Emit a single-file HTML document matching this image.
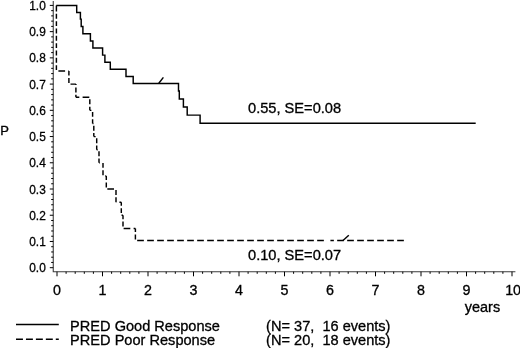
<!DOCTYPE html>
<html><head><meta charset="utf-8"><title>KM</title>
<style>html,body{margin:0;padding:0;background:#fff;}body{width:520px;height:348px;overflow:hidden;}svg{display:block;will-change:transform;filter:grayscale(1);}text{font-family:"Liberation Sans",sans-serif;fill:#000;stroke:#000;stroke-width:0.3px;white-space:pre;}</style></head><body>
<svg width="520" height="348" viewBox="0 0 520 348">
<rect width="520" height="348" fill="#fff"/>
<g stroke="#3c3c3c" stroke-width="1.1" fill="none">
<path d="M53.25 1 V271.7 H515.4"/>
</g>
<g stroke="#000" stroke-width="1.0" fill="none">
<path d="M49.8 267.70H53.25M51.2 262.45H53.25M51.2 257.21H53.25M51.2 251.96H53.25M51.2 246.72H53.25M49.8 241.47H53.25M51.2 236.22H53.25M51.2 230.98H53.25M51.2 225.73H53.25M51.2 220.49H53.25M49.8 215.24H53.25M51.2 209.99H53.25M51.2 204.75H53.25M51.2 199.50H53.25M51.2 194.26H53.25M49.8 189.01H53.25M51.2 183.76H53.25M51.2 178.52H53.25M51.2 173.27H53.25M51.2 168.03H53.25M49.8 162.78H53.25M51.2 157.53H53.25M51.2 152.29H53.25M51.2 147.04H53.25M51.2 141.80H53.25M49.8 136.55H53.25M51.2 131.30H53.25M51.2 126.06H53.25M51.2 120.81H53.25M51.2 115.57H53.25M49.8 110.32H53.25M51.2 105.07H53.25M51.2 99.83H53.25M51.2 94.58H53.25M51.2 89.34H53.25M49.8 84.09H53.25M51.2 78.84H53.25M51.2 73.60H53.25M51.2 68.35H53.25M51.2 63.11H53.25M49.8 57.86H53.25M51.2 52.61H53.25M51.2 47.37H53.25M51.2 42.12H53.25M51.2 36.88H53.25M49.8 31.63H53.25M51.2 26.38H53.25M51.2 21.14H53.25M51.2 15.89H53.25M51.2 10.65H53.25M49.8 5.40H53.25M57.00 271.7V276.3M66.10 271.7V273.8M75.20 271.7V273.8M84.30 271.7V273.8M93.40 271.7V273.8M102.50 271.7V276.3M111.60 271.7V273.8M120.70 271.7V273.8M129.80 271.7V273.8M138.90 271.7V273.8M148.00 271.7V276.3M157.10 271.7V273.8M166.20 271.7V273.8M175.30 271.7V273.8M184.40 271.7V273.8M193.50 271.7V276.3M202.60 271.7V273.8M211.70 271.7V273.8M220.80 271.7V273.8M229.90 271.7V273.8M239.00 271.7V276.3M248.10 271.7V273.8M257.20 271.7V273.8M266.30 271.7V273.8M275.40 271.7V273.8M284.50 271.7V276.3M293.60 271.7V273.8M302.70 271.7V273.8M311.80 271.7V273.8M320.90 271.7V273.8M330.00 271.7V276.3M339.10 271.7V273.8M348.20 271.7V273.8M357.30 271.7V273.8M366.40 271.7V273.8M375.50 271.7V276.3M384.60 271.7V273.8M393.70 271.7V273.8M402.80 271.7V273.8M411.90 271.7V273.8M421.00 271.7V276.3M430.10 271.7V273.8M439.20 271.7V273.8M448.30 271.7V273.8M457.40 271.7V273.8M466.50 271.7V276.3M475.60 271.7V273.8M484.70 271.7V273.8M493.80 271.7V273.8M502.90 271.7V273.8M512.00 271.7V276.3"/>
</g>
<text transform="translate(45.80 272.30) scale(0.93 1)" font-size="12.8" text-anchor="end" xml:space="preserve">0.0</text>
<text transform="translate(45.80 246.07) scale(0.93 1)" font-size="12.8" text-anchor="end" xml:space="preserve">0.1</text>
<text transform="translate(45.80 219.84) scale(0.93 1)" font-size="12.8" text-anchor="end" xml:space="preserve">0.2</text>
<text transform="translate(45.80 193.61) scale(0.93 1)" font-size="12.8" text-anchor="end" xml:space="preserve">0.3</text>
<text transform="translate(45.80 167.38) scale(0.93 1)" font-size="12.8" text-anchor="end" xml:space="preserve">0.4</text>
<text transform="translate(45.80 141.15) scale(0.93 1)" font-size="12.8" text-anchor="end" xml:space="preserve">0.5</text>
<text transform="translate(45.80 114.92) scale(0.93 1)" font-size="12.8" text-anchor="end" xml:space="preserve">0.6</text>
<text transform="translate(45.80 88.69) scale(0.93 1)" font-size="12.8" text-anchor="end" xml:space="preserve">0.7</text>
<text transform="translate(45.80 62.46) scale(0.93 1)" font-size="12.8" text-anchor="end" xml:space="preserve">0.8</text>
<text transform="translate(45.80 36.23) scale(0.93 1)" font-size="12.8" text-anchor="end" xml:space="preserve">0.9</text>
<text transform="translate(45.80 10.00) scale(0.93 1)" font-size="12.8" text-anchor="end" xml:space="preserve">1.0</text>
<text transform="translate(57.00 294.60) scale(1.02 1)" font-size="14.0" text-anchor="middle" xml:space="preserve">0</text>
<text transform="translate(102.50 294.60) scale(1.02 1)" font-size="14.0" text-anchor="middle" xml:space="preserve">1</text>
<text transform="translate(148.00 294.60) scale(1.02 1)" font-size="14.0" text-anchor="middle" xml:space="preserve">2</text>
<text transform="translate(193.50 294.60) scale(1.02 1)" font-size="14.0" text-anchor="middle" xml:space="preserve">3</text>
<text transform="translate(239.00 294.60) scale(1.02 1)" font-size="14.0" text-anchor="middle" xml:space="preserve">4</text>
<text transform="translate(284.50 294.60) scale(1.02 1)" font-size="14.0" text-anchor="middle" xml:space="preserve">5</text>
<text transform="translate(330.00 294.60) scale(1.02 1)" font-size="14.0" text-anchor="middle" xml:space="preserve">6</text>
<text transform="translate(375.50 294.60) scale(1.02 1)" font-size="14.0" text-anchor="middle" xml:space="preserve">7</text>
<text transform="translate(421.00 294.60) scale(1.02 1)" font-size="14.0" text-anchor="middle" xml:space="preserve">8</text>
<text transform="translate(466.50 294.60) scale(1.02 1)" font-size="14.0" text-anchor="middle" xml:space="preserve">9</text>
<text transform="translate(513.10 294.60) scale(1.02 1)" font-size="14.0" text-anchor="middle" xml:space="preserve">10</text>
<text transform="translate(464.80 312.10) scale(1.05 1)" font-size="13.8" text-anchor="start" xml:space="preserve">years</text>
<text transform="translate(0.30 134.60) scale(1.0 1)" font-size="13" text-anchor="start" xml:space="preserve">P</text>
<g stroke="#000" stroke-width="1.45" fill="none" stroke-linejoin="miter">
<path d="M56.30 5.40 L76.70 5.40 L76.70 12.50 L80.40 12.50 L80.40 19.10 L81.20 19.10 L81.20 26.50 L82.90 26.50 L82.90 33.80 L90.40 33.80 L90.40 40.90 L92.90 40.90 L92.90 48.00 L102.60 48.00 L102.60 55.10 L104.90 55.10 L104.90 62.20 L110.30 62.20 L110.30 69.30 L126.00 69.30 L126.00 76.40 L133.20 76.40 L133.20 83.50 L178.50 83.50 L178.50 91.00 L179.30 91.00 L179.30 99.00 L183.40 99.00 L183.40 107.00 L187.20 107.00 L187.20 115.10 L200.10 115.10 L200.10 123.30 L475.70 123.30"/>
<path d="M158.8 83.3 L163.4 77.4"/>
<path d="M343.0 240.5 L348.8 235.3"/>
</g>
<g stroke="#000" stroke-width="1.45" fill="none">
<path d="M56.40 5.40L56.40 11.45M56.40 13.83L56.40 18.78M56.40 21.16L56.40 26.11M56.40 28.49L56.40 33.44M56.40 35.82L56.40 40.77M56.40 43.15L56.40 48.10M56.40 50.48L56.40 55.43M56.40 57.81L56.40 62.76M56.40 65.14L56.40 70.09M58.40 71.00L65.10 71.00M68.40 71.00L68.90 71.00M68.90 71.00L68.90 75.59M68.90 77.97L68.90 82.92M70.51 84.12L75.90 84.12M75.90 84.12L75.90 85.12M75.90 87.50L75.90 92.45M75.90 94.83L75.90 97.24M75.90 97.24L79.31 97.24M82.61 97.24L89.31 97.24M89.80 99.30L89.80 104.25M89.80 106.63L89.80 110.36M89.80 110.36L91.41 110.36M92.60 111.90L92.60 116.85M92.60 119.23L92.60 123.48M92.60 123.48L93.51 123.48M93.80 125.69L93.80 130.64M93.80 133.02L93.80 136.60M93.80 136.60L95.61 136.60M96.70 138.22L96.70 143.17M96.70 145.55L96.70 149.72M96.70 149.72L97.71 149.72M99.00 151.19L99.00 156.14M99.00 158.52L99.00 162.84M99.00 162.84L99.81 162.84M103.00 162.92L103.00 167.87M103.00 170.25L103.00 175.20M105.21 175.96L106.30 175.96M106.30 175.96L106.30 180.11M106.30 182.49L106.30 187.44M107.31 189.08L114.01 189.08M116.00 190.04L116.00 194.99M116.00 197.37L116.00 202.20M116.00 202.20L116.11 202.20M119.41 202.20L121.30 202.20M121.30 202.20L121.30 205.77M121.30 208.15L121.30 213.10M121.52 215.32L123.00 215.32M123.00 215.32L123.00 219.18M123.00 221.56L123.00 226.51M123.62 228.44L130.32 228.44M133.62 228.44L135.40 228.44M135.40 228.44L135.40 232.08M135.40 234.46L135.40 239.41M137.16 240.50L143.86 240.50M147.16 240.50L153.86 240.50M157.16 240.50L163.86 240.50M167.16 240.50L173.86 240.50M177.16 240.50L183.86 240.50M187.16 240.50L193.86 240.50M197.16 240.50L203.86 240.50M207.16 240.50L213.86 240.50M217.16 240.50L223.86 240.50M227.16 240.50L233.86 240.50M237.16 240.50L243.86 240.50M247.16 240.50L253.86 240.50M257.16 240.50L263.86 240.50M267.16 240.50L273.86 240.50M277.16 240.50L283.86 240.50M287.16 240.50L293.86 240.50M297.16 240.50L303.86 240.50M307.16 240.50L313.86 240.50M317.16 240.50L323.86 240.50M330.40 240.50L333.86 240.50M337.16 240.50L343.86 240.50M347.16 240.50L353.86 240.50M357.16 240.50L363.86 240.50M367.16 240.50L373.86 240.50M377.16 240.50L383.86 240.50M387.16 240.50L393.86 240.50M397.16 240.50L403.86 240.50"/>
</g>
<text transform="translate(248.00 112.90) scale(1.06 1)" font-size="13.8" text-anchor="start" xml:space="preserve">0.55, SE=0.08</text>
<text transform="translate(248.00 259.90) scale(1.06 1)" font-size="13.8" text-anchor="start" xml:space="preserve">0.10, SE=0.07</text>
<g stroke="#000" stroke-width="1.45" fill="none">
<path d="M16 324.45H58.8"/>
<path d="M16 339.2H58.8" stroke-dasharray="6.95 3.0"/>
</g>
<text transform="translate(70.10 330.60) scale(1.035 1)" font-size="14.1" text-anchor="start" xml:space="preserve">PRED Good Response</text>
<text transform="translate(70.10 345.40) scale(1.035 1)" font-size="14.1" text-anchor="start" xml:space="preserve">PRED Poor Response</text>
<text transform="translate(266.10 330.60) scale(1.035 1)" font-size="14.1" text-anchor="start" xml:space="preserve">(N= 37,  16 events)</text>
<text transform="translate(266.10 345.40) scale(1.035 1)" font-size="14.1" text-anchor="start" xml:space="preserve">(N= 20,  18 events)</text>
</svg></body></html>
